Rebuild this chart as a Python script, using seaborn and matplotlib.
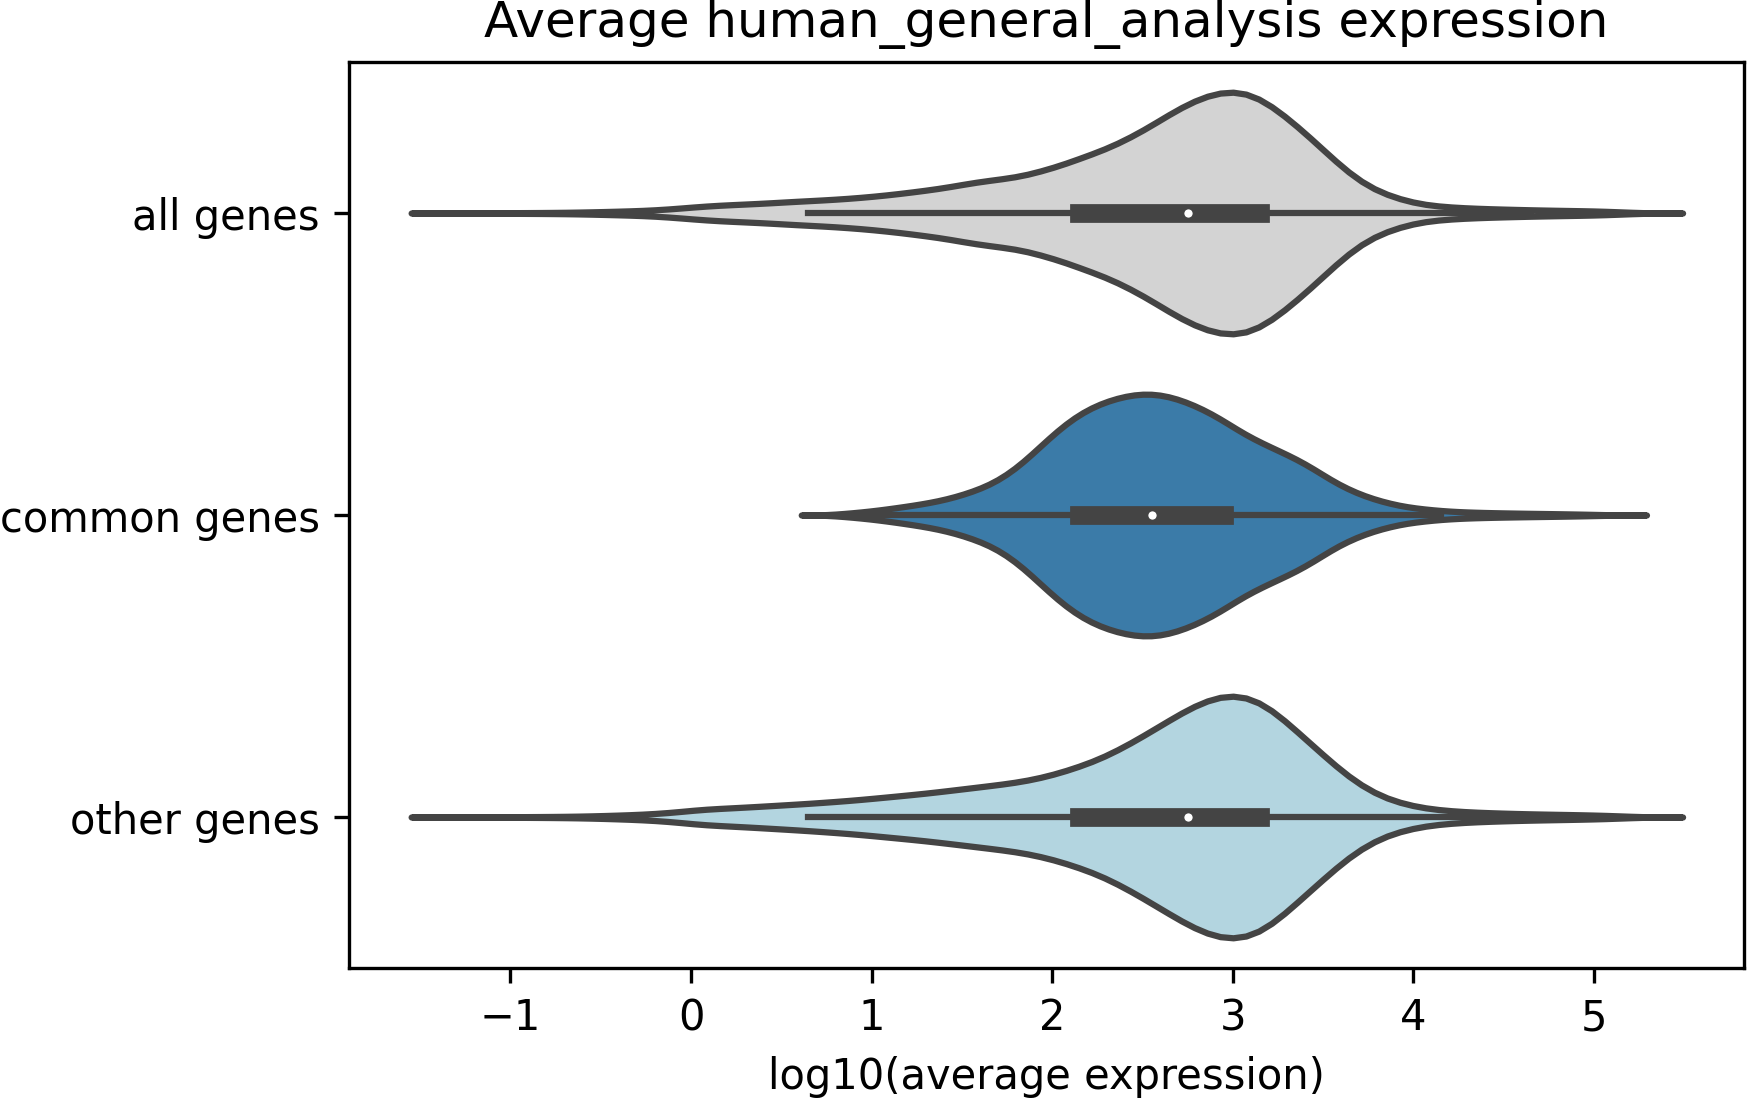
import numpy as np
import pandas as pd
import matplotlib
matplotlib.use("Agg")
import matplotlib.pyplot as plt
import seaborn as sns

# ---------------- data ----------------
categories = ["all genes", "common genes", "other genes"]
colors = ["#d3d3d3", "#3b7ba8", "#b3d5e0"]

# log10(average expression) bin centres
bin_centers = [-1.31, -1.25, -1.15, -1.05, -0.95, -0.85, -0.75, -0.65, -0.55, -0.45, -0.35,
               -0.25, -0.15, -0.05, 0.05, 0.15, 0.25, 0.35, 0.45, 0.55, 0.65,
               0.75, 0.85, 0.95, 1.05, 1.15, 1.25, 1.35, 1.45, 1.55, 1.65,
               1.75, 1.85, 1.95, 2.05, 2.15, 2.25, 2.35, 2.45, 2.55, 2.65,
               2.75, 2.85, 2.95, 3.05, 3.15, 3.25, 3.35, 3.45, 3.55, 3.65,
               3.75, 3.85, 3.95, 4.05, 4.15, 4.25, 4.35, 4.45, 4.55, 4.65,
               4.75, 4.85, 4.95, 5.05, 5.15, 5.25]

# relative frequency of genes in each bin
all_genes_freq = [0.1, 0.2, 0.2, 0.3, 0.3, 0.4, 0.5, 0.7, 1.0, 1.4, 1.8,
                  2.3, 3.2, 4.4, 5.8, 6.8, 7.5, 8.2, 9.0, 10.0, 10.8,
                  11.6, 12.6, 13.8, 15.3, 17.0, 19.0, 21.0, 23.5, 26.5, 28.7,
                  30.5, 33.0, 37.5, 42.0, 48.0, 53.5, 60.0, 68.0, 77.0, 87.0,
                  96.0, 103.0, 107.0, 107.0, 101.0, 90.0, 77.0, 63.0, 48.0, 34.0,
                  23.0, 16.0, 11.0, 7.5, 5.8, 4.8, 4.1, 3.6, 3.2, 2.8,
                  2.5, 2.2, 2.0, 1.6, 1.0, 0.3]

common_genes_freq = [0.0, 0.0, 0.0, 0.0, 0.0, 0.0, 0.0, 0.0, 0.0, 0.0, 0.0,
                     0.0, 0.0, 0.0, 0.0, 0.0, 0.0, 0.0, 0.0, 0.0, 0.0,
                     0.0, 1.5, 3.0, 5.0, 7.5, 10.0, 13.0, 17.0, 22.5, 29.0,
                     39.0, 53.0, 70.0, 86.0, 99.0, 108.0, 114.0, 118.0, 119.0, 116.0,
                     110.0, 102.0, 92.0, 80.0, 71.0, 63.0, 55.0, 45.0, 33.0, 24.0,
                     17.0, 12.0, 8.0, 6.0, 4.2, 3.2, 2.6, 2.2, 1.9, 1.6,
                     1.4, 1.1, 0.8, 0.4, 0.0, 0.0]

other_genes_freq = [0.1, 0.2, 0.2, 0.3, 0.3, 0.4, 0.5, 0.7, 1.0, 1.5, 2.0,
                    2.7, 3.7, 5.2, 7.0, 7.9, 8.7, 9.6, 10.6, 11.6, 12.6,
                    13.8, 15.0, 16.4, 18.0, 19.6, 21.2, 23.0, 25.0, 27.0, 29.0,
                    31.0, 33.5, 37.0, 41.5, 47.0, 53.0, 61.0, 70.0, 80.0, 90.0,
                    100.0, 108.0, 113.0, 113.0, 107.0, 95.0, 80.0, 65.0, 50.0, 36.0,
                    25.0, 17.0, 12.0, 8.5, 6.5, 5.2, 4.4, 3.8, 3.3, 2.9,
                    2.6, 2.3, 2.0, 1.6, 1.0, 0.3]

title = "Average human_general_analysis expression"
x_label = "log10(average expression)"

# ---------------- build long table ----------------
frames = []
for name, freq in zip(categories, [all_genes_freq, common_genes_freq, other_genes_freq]):
    counts = np.round(np.asarray(freq) * 10).astype(int)
    vals = np.repeat(np.asarray(bin_centers), counts)
    frames.append(pd.DataFrame({"group": name, "value": vals}))
df = pd.concat(frames, ignore_index=True)
medians = df.groupby("group")["value"].median().reindex(categories)

KDE_BW = 0.08


def fixed_bw(kde):
    return KDE_BW / kde.dataset.std(ddof=1)


# ---------------- plot ----------------
W, H, DPI = 1747, 1098, 300
fig = plt.figure(figsize=(W / DPI, H / DPI), dpi=DPI)
ax = fig.add_axes([349 / W, 130 / H, 1395 / W, 906 / H])

sns.violinplot(
    data=df, x="value", y="group", hue="group", order=categories,
    hue_order=categories, palette=dict(zip(categories, colors)),
    saturation=1, legend=False, inner="box", linewidth=1.5,
    linecolor="#444444", bw_method=fixed_bw, cut=3, density_norm="area",
    inner_kws=dict(box_width=4.5, whis_width=1.5, marker="None",
                   solid_capstyle="projecting"),
    ax=ax,
)
sns.stripplot(x=medians.values, y=categories, order=categories, jitter=False,
              color="white", edgecolor="#444444", linewidth=1, size=3,
              zorder=4, ax=ax)

ax.set_xlim(-1.894, 5.83)
ax.set_xlabel(x_label, fontsize=10)
ax.set_ylabel("")
ax.set_title(title, fontsize=12)
ax.tick_params(labelsize=10)

fig.savefig("out.png", dpi=DPI)
